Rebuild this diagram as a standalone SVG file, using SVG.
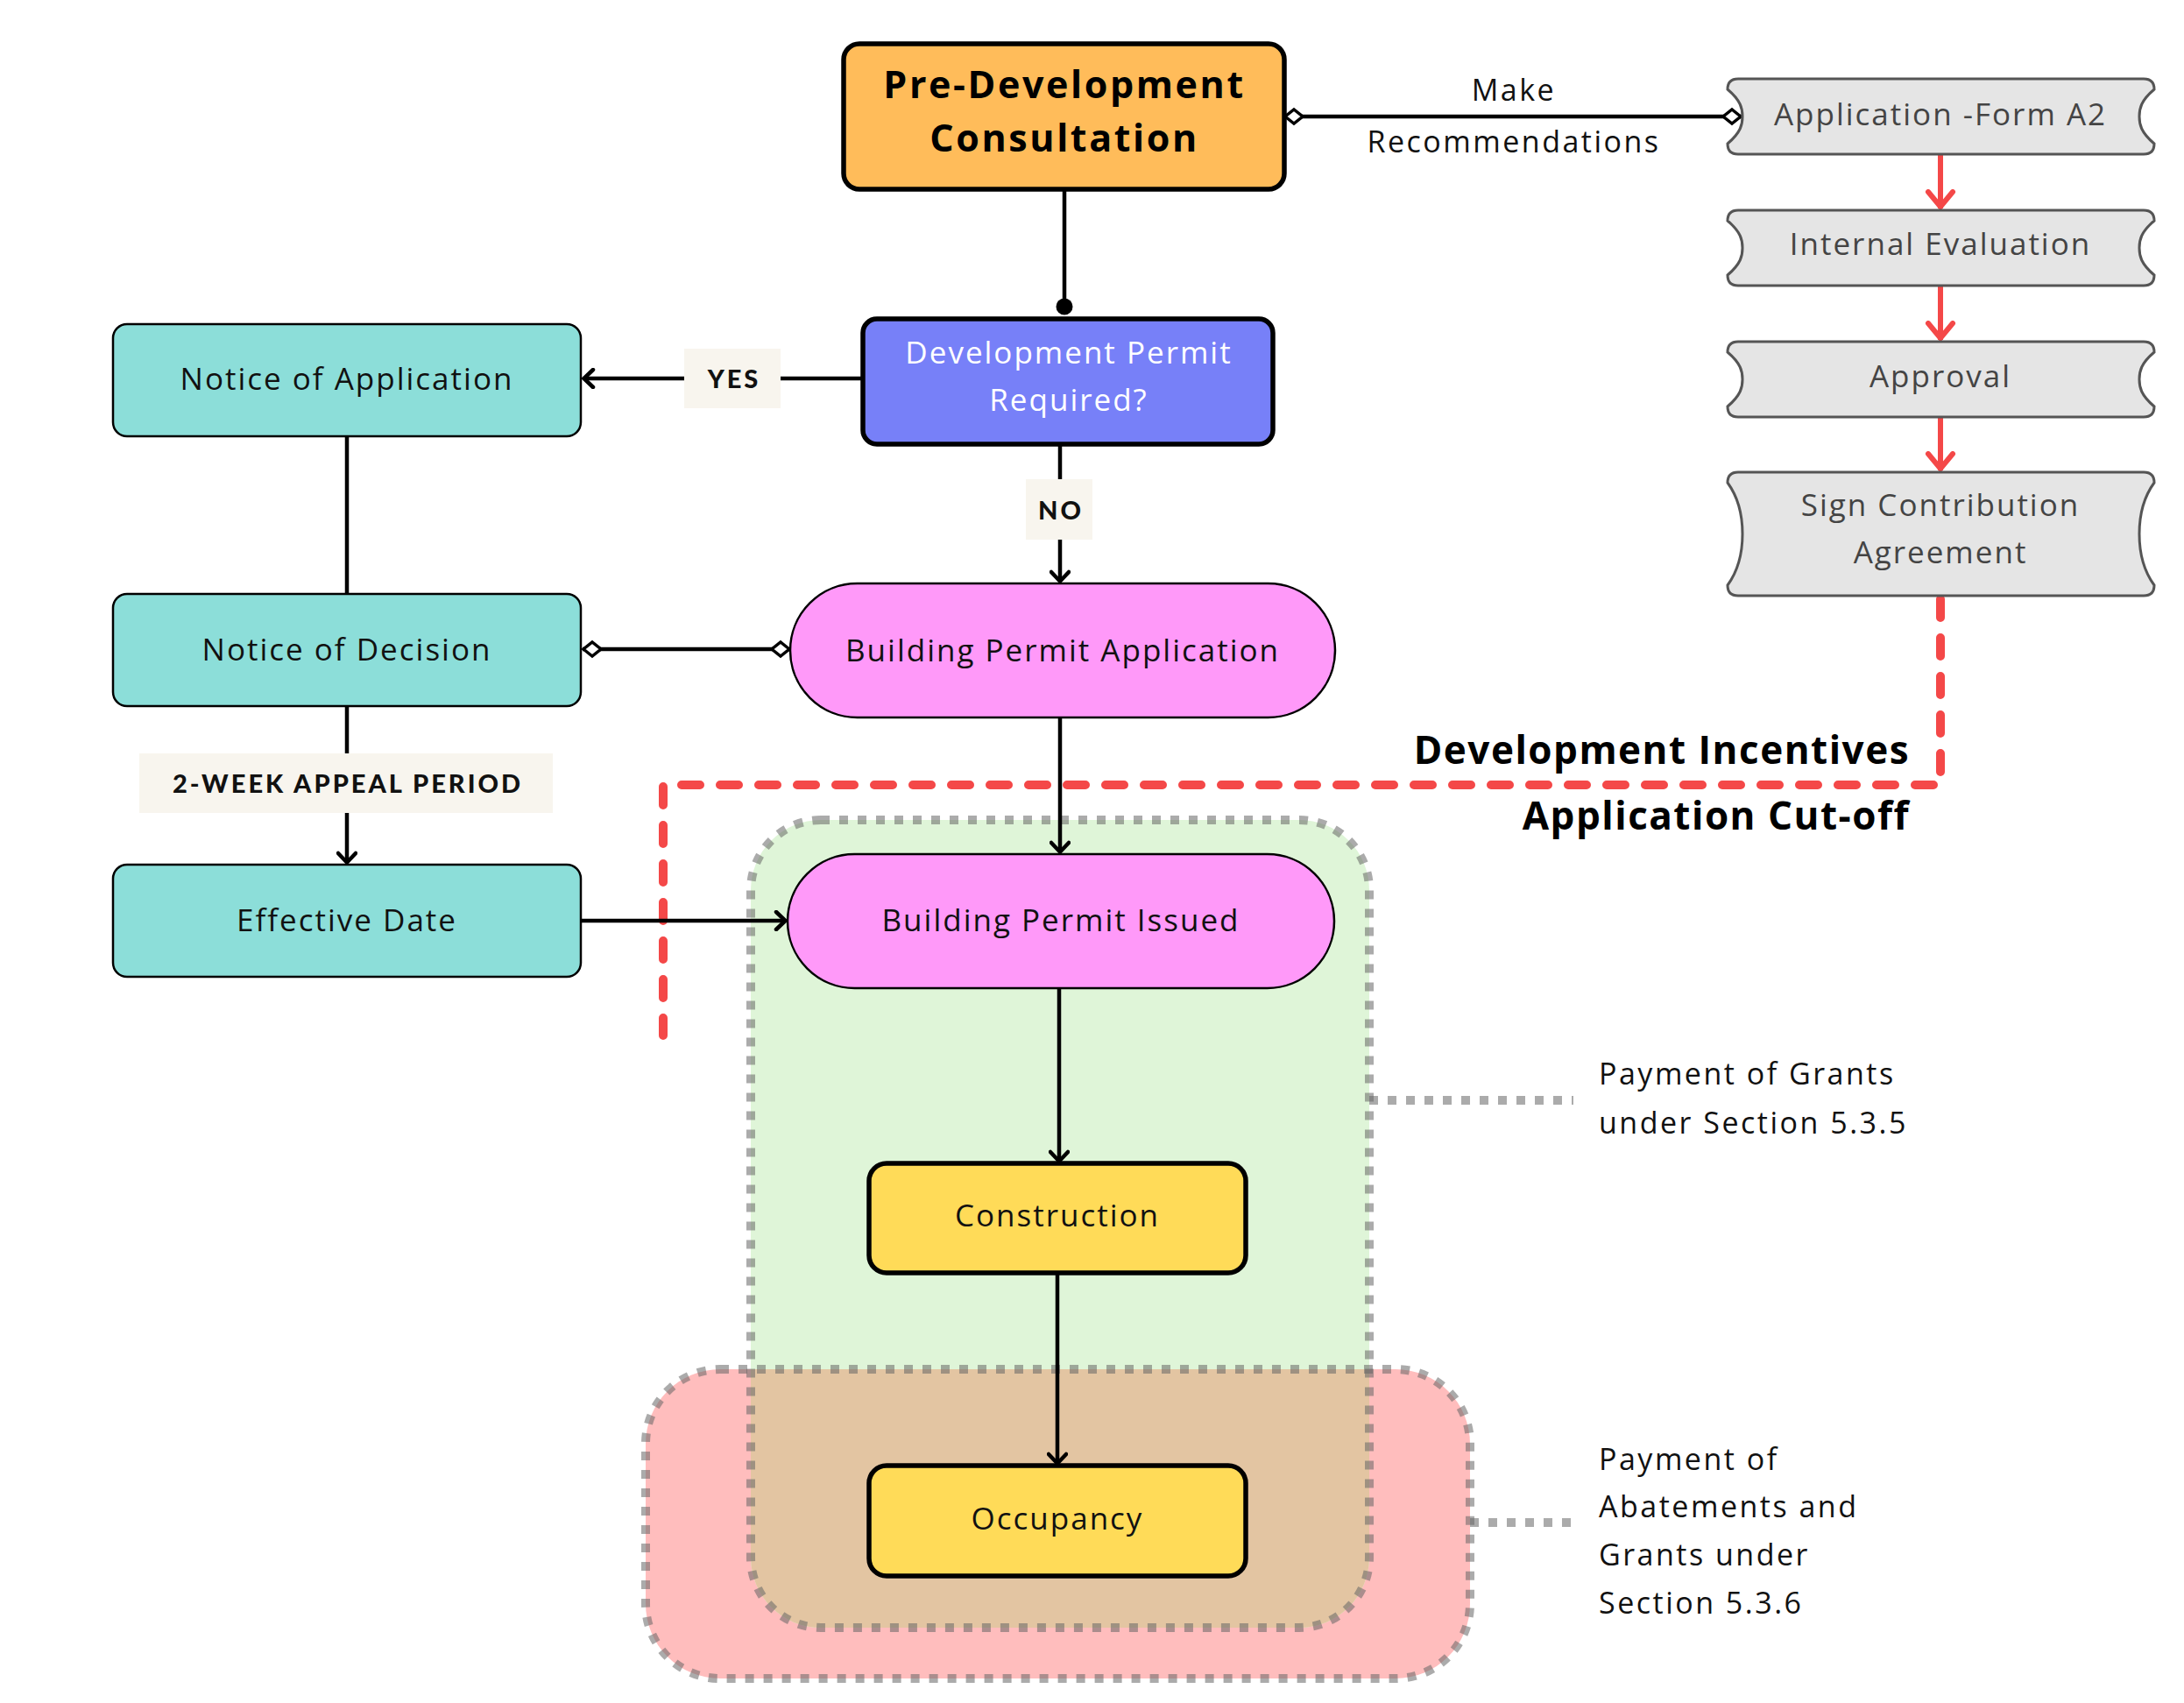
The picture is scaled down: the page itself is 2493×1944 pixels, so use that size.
<svg xmlns="http://www.w3.org/2000/svg" width="2493" height="1944" viewBox="0 0 2493 1944">
<defs>
<style>
.t{font-family:"Open Sans","Liberation Sans",sans-serif;font-size:35px;letter-spacing:2px;fill:#111;text-anchor:middle}
.tb{font-family:"Open Sans","Liberation Sans",sans-serif;font-weight:700;fill:#000}
.g{font-family:"Open Sans","Liberation Sans",sans-serif;font-size:35px;letter-spacing:2px;fill:#444;text-anchor:middle}
.side{font-family:"Open Sans","Liberation Sans",sans-serif;font-size:34px;letter-spacing:2.5px;fill:#111}
.lbl{font-family:"Lato","Liberation Sans",sans-serif;font-weight:900;font-size:29px;letter-spacing:3px;fill:#111;text-anchor:middle}
.lblbg{fill:#F8F5EE}
.c{fill:none;stroke:#000;stroke-width:4.5}
.red{fill:none;stroke:#F44848;stroke-width:6}
.dot{fill:none;stroke:#666;stroke-opacity:.55;stroke-width:10;stroke-dasharray:10 11}
.gray{fill:#E5E5E5;stroke:#555;stroke-width:3}
.teal{fill:#8CDED9;stroke:#000;stroke-width:2.5}
.pinkn{fill:#FF99F9;stroke:#000;stroke-width:2.5}
.yel{fill:#FFDB58;stroke:#000;stroke-width:5.5}
</style>
<marker id="arr" viewBox="-14 -12 16 24" markerWidth="16" markerHeight="24" refX="0" refY="0" orient="auto" markerUnits="userSpaceOnUse">
<path d="M-11,-10 L-0.5,0 L-11,10" fill="none" stroke="#000" stroke-width="4.5" stroke-linecap="round"/>
</marker>
<marker id="rarr" viewBox="-22 -18 24 36" markerWidth="24" markerHeight="36" refX="0" refY="0" orient="auto" markerUnits="userSpaceOnUse">
<path d="M-19,-14 L-2,0 L-19,14" fill="none" stroke="#F44848" stroke-width="6" stroke-linecap="round"/>
</marker>
<marker id="dia" viewBox="-26 -11 28 22" markerWidth="28" markerHeight="22" refX="0" refY="0" orient="auto-start-reverse" markerUnits="userSpaceOnUse">
<path d="M-1,0 L-11,-8 L-21,0 L-11,8 Z" fill="#fff" stroke="#000" stroke-width="3.5"/>
</marker>
<marker id="dot" viewBox="-12 -12 24 24" markerWidth="24" markerHeight="24" refX="0" refY="0" orient="auto" markerUnits="userSpaceOnUse">
<circle cx="0" cy="0" r="9.5" fill="#000"/>
</marker>
<clipPath id="pinkclip"><rect x="737" y="1563" width="941" height="353" rx="85"/></clipPath>
</defs>
<rect width="2493" height="1944" fill="#fff"/>

<g id="regions">
<rect id="region-abatements" x="737" y="1563" width="941" height="353" rx="85" fill="#FFBDBD"/>
<rect id="region-grants" x="857" y="936" width="706" height="922" rx="80" fill="#DFF5D8"/>
<rect x="857" y="936" width="706" height="922" rx="80" fill="#E3C5A2" clip-path="url(#pinkclip)"/>
<rect x="737" y="1563" width="941" height="353" rx="85" class="dot"/>
<rect x="857" y="936" width="706" height="922" rx="80" class="dot"/>
</g>

<g id="cutoff">
<path d="M2215,684 V896 H757 V1182" fill="none" stroke="#F44848" stroke-width="10" stroke-linecap="round" stroke-dasharray="21 23"/>
<text class="tb" x="2180" y="872" font-size="44" letter-spacing="1.5" text-anchor="end">Development Incentives</text>
<text class="tb" x="2180" y="947" font-size="44" letter-spacing="1.5" text-anchor="end">Application Cut-off</text>
</g>

<g id="connectors">
<path class="c" d="M1466,133 H1988" stroke-width="5.5" marker-start="url(#dia)" marker-end="url(#dia)"/>
<path class="c" d="M1215,216 V350" marker-end="url(#dot)"/>
<path class="c" d="M985,432 H666" marker-end="url(#arr)"/>
<path class="c" d="M1210,507 V664" marker-end="url(#arr)"/>
<path class="c" d="M396,498 V678"/>
<path class="c" d="M665,741 H902" stroke-width="5" marker-start="url(#dia)" marker-end="url(#dia)"/>
<path class="c" d="M396,806 V985" marker-end="url(#arr)"/>
<path class="c" d="M663,1051 H897" marker-end="url(#arr)"/>
<path class="c" d="M1210,819 V973" marker-end="url(#arr)"/>
<path class="c" d="M1209,1128 V1326" marker-end="url(#arr)"/>
<path class="c" d="M1207,1453 V1671" marker-end="url(#arr)"/>
<path class="red" d="M2215,176 V238" marker-end="url(#rarr)"/>
<path class="red" d="M2215,326 V388" marker-end="url(#rarr)"/>
<path class="red" d="M2215,476 V537" marker-end="url(#rarr)"/>
<path class="dot" d="M1563,1256 H1796"/>
<path class="dot" d="M1678,1738 H1796"/>
<text class="side" x="1728" y="115" text-anchor="middle" letter-spacing="2.4">Make</text>
<text class="side" x="1728" y="174" text-anchor="middle" letter-spacing="2.4">Recommendations</text>
<g id="label-yes"><rect class="lblbg" x="781" y="398" width="110" height="68"/><text class="lbl" x="838" y="443">YES</text></g>
<g id="label-no"><rect class="lblbg" x="1171" y="547" width="76" height="69"/><text class="lbl" x="1211" y="593">NO</text></g>
<g id="label-appeal"><rect class="lblbg" x="159" y="860" width="472" height="68"/><text class="lbl" x="397" y="905">2-WEEK APPEAL PERIOD</text></g>
</g>

<g id="node-predev">
<rect x="963" y="50" width="503" height="166" rx="18" fill="#FFBC5A" stroke="#000" stroke-width="5.5"/>
<text class="tb" x="1215" y="112" font-size="43" letter-spacing="2.6" text-anchor="middle">Pre-Development</text>
<text class="tb" x="1215" y="173" font-size="43" letter-spacing="2.6" text-anchor="middle">Consultation</text>
</g>
<g id="node-devpermit">
<rect x="985" y="364" width="468" height="143" rx="16" fill="#7780F8" stroke="#000" stroke-width="5.5"/>
<text class="t" x="1220" y="415" style="fill:#fff">Development Permit</text>
<text class="t" x="1220" y="469" style="fill:#fff">Required?</text>
</g>
<g id="node-notice-app"><rect class="teal" x="129" y="370" width="534" height="128" rx="16"/><text class="t" x="396" y="445">Notice of Application</text></g>
<g id="node-notice-dec"><rect class="teal" x="129" y="678" width="534" height="128" rx="16"/><text class="t" x="396" y="754">Notice of Decision</text></g>
<g id="node-effective"><rect class="teal" x="129" y="987" width="534" height="128" rx="16"/><text class="t" x="396" y="1063">Effective Date</text></g>
<g id="node-bp-app"><rect class="pinkn" x="902" y="666" width="622" height="153" rx="76.5"/><text class="t" x="1213" y="755">Building Permit Application</text></g>
<g id="node-bp-issued"><rect class="pinkn" x="899" y="975" width="624" height="153" rx="76.5"/><text class="t" x="1211" y="1063">Building Permit Issued</text></g>
<g id="node-construction"><rect class="yel" x="992" y="1328" width="430" height="125" rx="20"/><text class="t" x="1207" y="1400">Construction</text></g>
<g id="node-occupancy"><rect class="yel" x="992" y="1673" width="430" height="126" rx="20"/><text class="t" x="1207" y="1746">Occupancy</text></g>

<g id="node-form-a2"><path class="gray" d="M1984,90 H2447 Q2459,90 2459,102 C2443.7,115 2442,124 2442,133 C2442,142 2443.7,151 2459,164 Q2459,176 2447,176 H1984 Q1972,176 1972,164 C1987.3,151 1989,142 1989,133 C1989,124 1987.3,115 1972,102 Q1972,90 1984,90 Z"/><text class="g" x="2215" y="143">Application -Form A2</text></g>
<g id="node-internal"><path class="gray" d="M1984,240 H2447 Q2459,240 2459,252 C2443.7,265 2442,274 2442,283 C2442,292 2443.7,301 2459,314 Q2459,326 2447,326 H1984 Q1972,326 1972,314 C1987.3,301 1989,292 1989,283 C1989,274 1987.3,265 1972,252 Q1972,240 1984,240 Z"/><text class="g" x="2215" y="291">Internal Evaluation</text></g>
<g id="node-approval"><path class="gray" d="M1984,390 H2447 Q2459,390 2459,402 C2443.7,415 2442,424 2442,433 C2442,442 2443.7,451 2459,464 Q2459,476 2447,476 H1984 Q1972,476 1972,464 C1987.3,451 1989,442 1989,433 C1989,424 1987.3,415 1972,402 Q1972,390 1984,390 Z"/><text class="g" x="2215" y="442">Approval</text></g>
<g id="node-contribution"><path class="gray" d="M1984,539 H2447 Q2459,539 2459,551 C2443.7,572 2442,596 2442,609.5 C2442,623 2443.7,647 2459,668 Q2459,680 2447,680 H1984 Q1972,680 1972,668 C1987.3,647 1989,623 1989,609.5 C1989,596 1987.3,572 1972,551 Q1972,539 1984,539 Z"/><text class="g" x="2215" y="589">Sign Contribution</text><text class="g" x="2215" y="643">Agreement</text></g>

<g id="notes">
<text class="side" x="1825" y="1238">Payment of Grants</text>
<text class="side" x="1825" y="1294">under Section 5.3.5</text>
<text class="side" x="1825" y="1678">Payment of</text>
<text class="side" x="1825" y="1732">Abatements and</text>
<text class="side" x="1825" y="1787">Grants under</text>
<text class="side" x="1825" y="1842">Section 5.3.6</text>
</g>
</svg>
